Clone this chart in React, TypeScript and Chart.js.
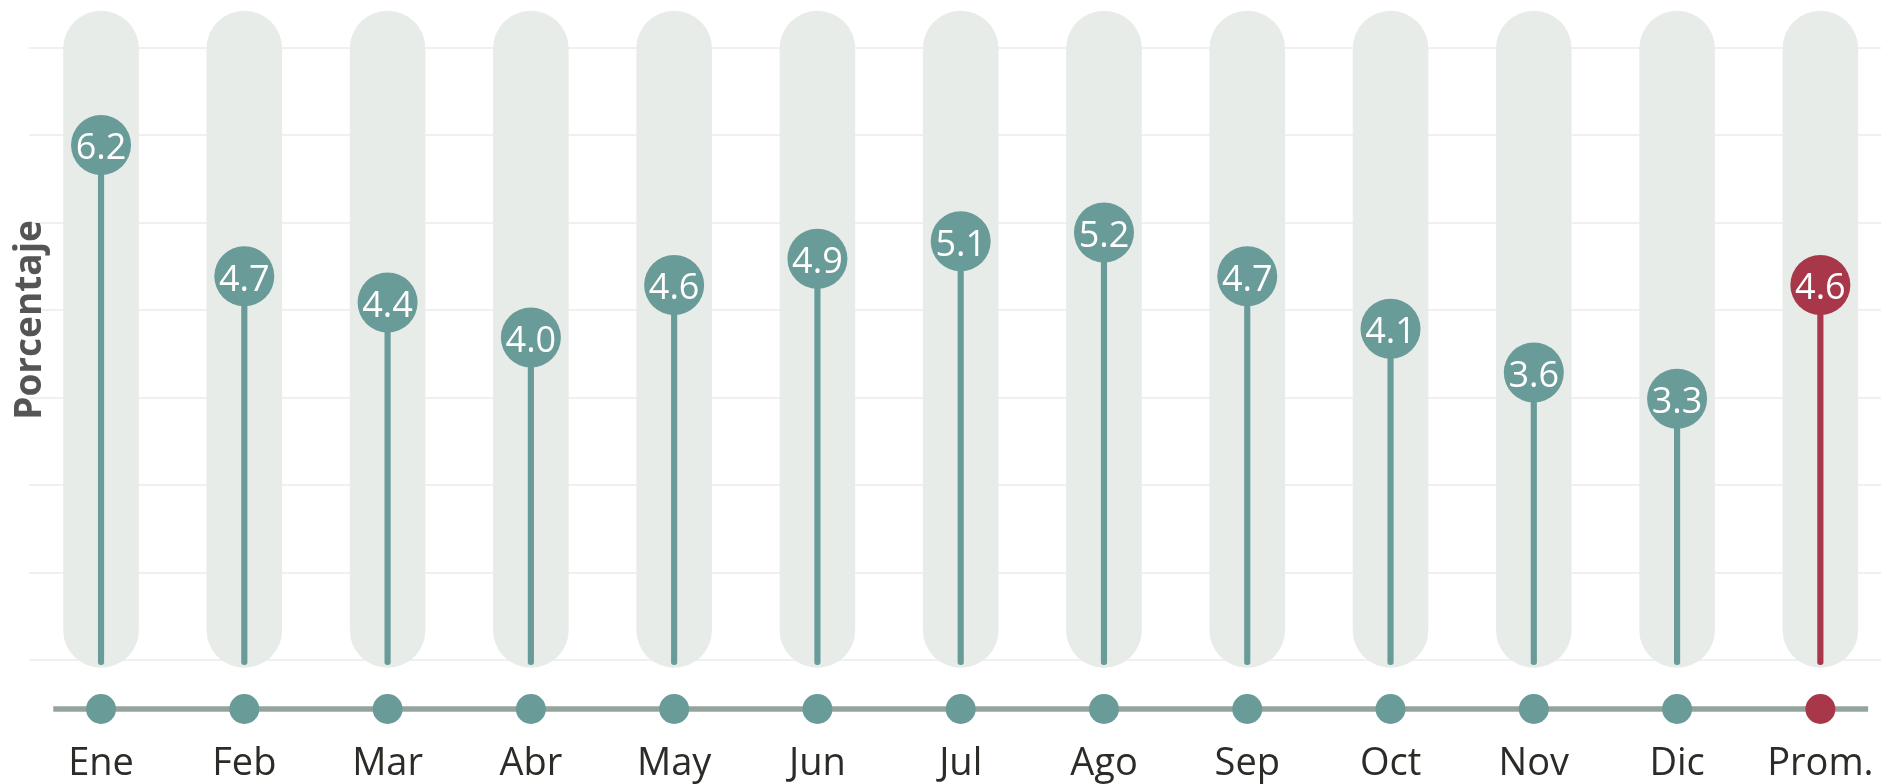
import React, { useEffect, useRef } from "react";
import { Chart, registerables } from "chart.js";

Chart.register(...registerables);

// ---- data ----
const CATEGORIES = ["Ene", "Feb", "Mar", "Abr", "May", "Jun", "Jul", "Ago", "Sep", "Oct", "Nov", "Dic", "Prom."];
const VALUES = [6.2, 4.7, 4.4, 4.0, 4.6, 4.9, 5.1, 5.2, 4.7, 4.1, 3.6, 3.3, 4.6];
const GRID_VALUES = [0.31, 1.31, 2.31, 3.31, 4.31, 5.31, 6.31, 7.31];
const PILL_RANGE: [number, number] = [0.23, 7.73];
const STEM_BASE = 0.26;
const AXIS_DOT_LEVEL = -0.246;
const Y_MIN = -0.486;
const Y_MAX = 7.857;
const AXIS_TITLE = "Porcentaje";
const HIGHLIGHT = "Prom.";

// ---- styles ----
const TEAL = "#699b98";
const RED = "#a8374a";
const PILL = "#e8ece9";
const AXIS_LINE = "#94a49c";
const GRID = "#f0f0f0";
const LABEL = "#2d2b27";
const TITLE = "#555555";
const FONT = "'Open Sans', 'Noto Sans', sans-serif";

const colorFor = (c: string) => (c === HIGHLIGHT ? RED : TEAL);

const lollipopPlugin = {
  id: "lollipopExtras",
  beforeDatasetsDraw(chart: any) {
    const { ctx, scales } = chart;
    const x = scales.x;
    const y = scales.y;
    const w = x.getPixelForValue(1) - x.getPixelForValue(0);
    const x0 = x.getPixelForValue(0) - w / 3;
    const x1 = x.getPixelForValue(CATEGORIES.length - 1) + w / 3;
    const yy = y.getPixelForValue(AXIS_DOT_LEVEL);
    ctx.save();
    ctx.strokeStyle = AXIS_LINE;
    ctx.lineWidth = 5.5;
    ctx.beginPath();
    ctx.moveTo(x0, yy);
    ctx.lineTo(x1, yy);
    ctx.stroke();
    ctx.restore();
  },
  afterDatasetsDraw(chart: any) {
    const { ctx } = chart;
    const meta = chart.getDatasetMeta(2);
    ctx.save();
    ctx.fillStyle = "#ffffff";
    ctx.font = `36px ${FONT}`;
    ctx.textAlign = "center";
    ctx.textBaseline = "alphabetic";
    meta.data.forEach((pt: any, i: number) => {
      ctx.fillText(VALUES[i].toFixed(1), pt.x, pt.y + 14.3);
    });
    ctx.restore();
  },
  afterDraw(chart: any) {
    const { ctx } = chart;
    ctx.save();
    ctx.translate(41, 320);
    ctx.rotate(-Math.PI / 2);
    ctx.fillStyle = TITLE;
    ctx.font = `bold 37px ${FONT}`;
    ctx.textAlign = "center";
    ctx.textBaseline = "alphabetic";
    ctx.fillText(AXIS_TITLE, 0, 0);
    ctx.restore();
  },
};

export default function App() {
  const ref = useRef<HTMLCanvasElement | null>(null);

  useEffect(() => {
    if (!ref.current) return;
    const colors = CATEGORIES.map(colorFor);
    const chart = new Chart(ref.current, {
      type: "bar",
      data: {
        labels: CATEGORIES,
        datasets: [
          {
            type: "bar",
            data: CATEGORIES.map(() => PILL_RANGE),
            backgroundColor: PILL,
            barThickness: 75,
            borderRadius: 37.5,
            borderSkipped: false,
            grouped: false,
            order: 4,
          } as any,
          {
            type: "bar",
            data: VALUES.map((v) => [STEM_BASE, v]),
            backgroundColor: colors,
            barThickness: 5.5,
            borderRadius: 2.75,
            borderSkipped: false,
            grouped: false,
            order: 3,
          } as any,
          {
            type: "line",
            data: VALUES,
            showLine: false,
            pointRadius: 30,
            pointHoverRadius: 30,
            pointBorderWidth: 0,
            pointBackgroundColor: colors,
            order: 1,
          } as any,
          {
            type: "line",
            data: CATEGORIES.map(() => AXIS_DOT_LEVEL),
            showLine: false,
            pointRadius: 15,
            pointHoverRadius: 15,
            pointBorderWidth: 0,
            pointBackgroundColor: colors,
            order: 2,
          } as any,
        ],
      },
      options: {
        responsive: false,
        animation: false,
        events: [],
        layout: { autoPadding: false, padding: { left: 29.4, right: 1, top: 0, bottom: 0 } },
        plugins: {
          legend: { display: false },
          tooltip: { enabled: false },
        },
        scales: {
          x: {
            type: "category",
            offset: true,
            grid: { display: false },
            border: { display: false },
            ticks: {
              color: LABEL,
              font: { size: 38, family: FONT },
              padding: 3,
              maxRotation: 0,
            },
            afterFit: (s: any) => {
              s.height = 54;
            },
          },
          y: {
            type: "linear",
            min: Y_MIN,
            max: Y_MAX,
            grid: { color: GRID, lineWidth: 2, drawTicks: false },
            border: { display: false },
            ticks: { display: false },
            afterBuildTicks: (s: any) => {
              s.ticks = GRID_VALUES.map((v) => ({ value: v }));
            },
          },
        },
      },
      plugins: [lollipopPlugin],
    } as any);
    return () => chart.destroy();
  }, []);

  return (
    <div style={{ position: "fixed", left: 0, top: 0, width: 1881, height: 784, overflow: "hidden", background: "#fff" }}>
      <canvas ref={ref} width={1893} height={784} style={{ display: "block" }} />
    </div>
  );
}
